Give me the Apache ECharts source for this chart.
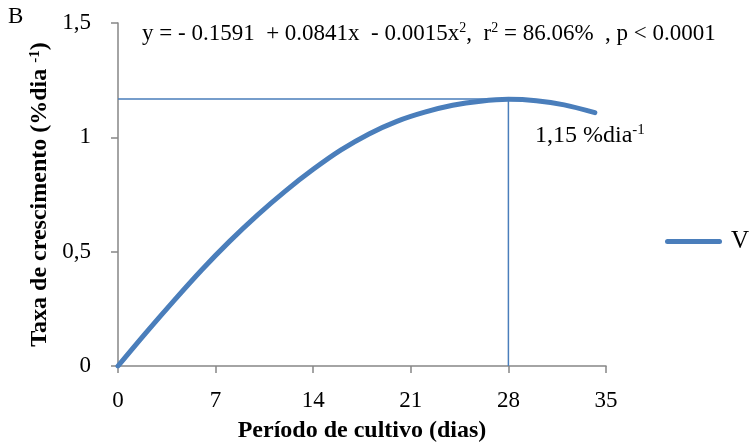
<!DOCTYPE html>
<html>
<head>
<meta charset="utf-8">
<script src="https://cdn.jsdelivr.net/npm/echarts@6/dist/echarts.min.js"></script>
<style>html,body{margin:0;padding:0;background:#fff}#c{width:749px;height:448px}</style>
</head>
<body>
<div id="c"></div>
<script>
var days   = [0, 2, 4, 6, 8, 10, 12, 14, 16, 18, 20, 22, 24, 26, 28, 30, 32, 34.2];
var rate   = [0, 0.145, 0.285, 0.42, 0.545, 0.66, 0.765, 0.86, 0.945, 1.015, 1.07, 1.11, 1.14, 1.158, 1.166, 1.16, 1.142, 1.108];
var peakX = 28;
var peakY = 1.168;
var xTicks = [0, 7, 14, 21, 28, 35];
var yTicks = ['0', '0,5', '1', '1,5'];
var seriesName = 'V';

var FONT = 'Liberation Serif';
var blue = '#4A7EBB';
var axisGray = '#868686';

var chart = echarts.init(document.getElementById('c'));
chart.setOption({
  animation: false,
  textStyle: { fontFamily: FONT },
  grid: { left: 118, right: 143, top: 23, bottom: 79, containLabel: false },
  xAxis: {
    type: 'value', min: 0, max: 35, interval: 7,
    name: 'Período de cultivo (dias)',
    nameLocation: 'middle', nameGap: 53,
    nameTextStyle: { fontFamily: FONT, fontWeight: 'bold', fontSize: 24, color: '#000' },
    axisLine: { lineStyle: { color: axisGray, width: 1.5 } },
    axisTick: { show: true, length: 7, inside: false, lineStyle: { color: axisGray, width: 1.5 } },
    axisLabel: { fontFamily: FONT, fontSize: 23, color: '#000', margin: 23,
      formatter: function (v) { return xTicks.indexOf(v) >= 0 ? String(v) : ''; } },
    splitLine: { show: false }
  },
  yAxis: {
    type: 'value', min: 0, max: 1.5, interval: 0.5,
    name: '{t|Taxa de crescimento (%dia }{s|-1}{t|)}',
    nameLocation: 'middle', nameGap: 58, nameRotate: 90,
    nameTextStyle: { fontFamily: FONT, fontWeight: 'bold', fontSize: 24, color: '#000',
      rich: {
        t: { fontFamily: FONT, fontWeight: 'bold', fontSize: 24, color: '#000' },
        s: { fontFamily: FONT, fontWeight: 'bold', fontSize: 15, color: '#000', verticalAlign: 'top', padding: [0, 0, 9, 0] }
      } },
    axisLine: { show: true, lineStyle: { color: axisGray, width: 1.5 } },
    axisTick: { show: true, length: 7, inside: false, lineStyle: { color: axisGray, width: 1.5 } },
    axisLabel: { fontFamily: FONT, fontSize: 23, color: '#000', margin: 27,
      formatter: function (v) { return yTicks[Math.round(v / 0.5)]; } },
    splitLine: { show: false }
  },
  legend: {
    data: [seriesName],
    orient: 'vertical',
    left: 660, top: 224,
    itemWidth: 57, itemHeight: 5, itemGap: 0,
    textStyle: { fontFamily: FONT, fontSize: 25, color: '#000', padding: [0, 0, 0, 4] },
    icon: 'path://M2.5,0 L54.5,0 A2.5,2.5 0 0 1 54.5,5 L2.5,5 A2.5,2.5 0 0 1 2.5,0 Z'
  },
  series: [
    {
      name: 'ref', type: 'line', silent: true, symbol: 'none',
      data: [[0, peakY], [peakX, peakY], [peakX, 0]],
      lineStyle: { color: blue, width: 1.5 },
      z: 1
    },
    {
      name: seriesName, type: 'line', smooth: 0.3, symbol: 'none',
      data: days.map(function (d, i) { return [d, rate[i]]; }),
      lineStyle: { color: blue, width: 5, cap: 'round' },
      itemStyle: { color: blue },
      z: 3
    }
  ],
  graphic: [
    { type: 'text', left: 8, top: 5, style: { text: 'B', font: '23px "Liberation Serif"', fill: '#000' } },
    { type: 'text', left: 142, top: 21,
      style: { rich: {
        a: { font: '23px "Liberation Serif"', fill: '#000' },
        s: { font: '14px "Liberation Serif"', fill: '#000', verticalAlign: 'top', padding: [0,0,11,0] }
      },
      text: '{a|y = - 0.1591  + 0.0841x  - 0.0015x}{s|2}{a|,  r}{s|2}{a| = 86.06%  , p < 0.0001}' } },
    { type: 'text', left: 535, top: 123,
      style: { rich: {
        a: { font: '24px "Liberation Serif"', fill: '#000' },
        s: { font: '15px "Liberation Serif"', fill: '#000', verticalAlign: 'top', padding: [0,0,11,0] }
      },
      text: '{a|1,15 %dia}{s|-1}' } }
  ]
});
</script>
</body>
</html>
